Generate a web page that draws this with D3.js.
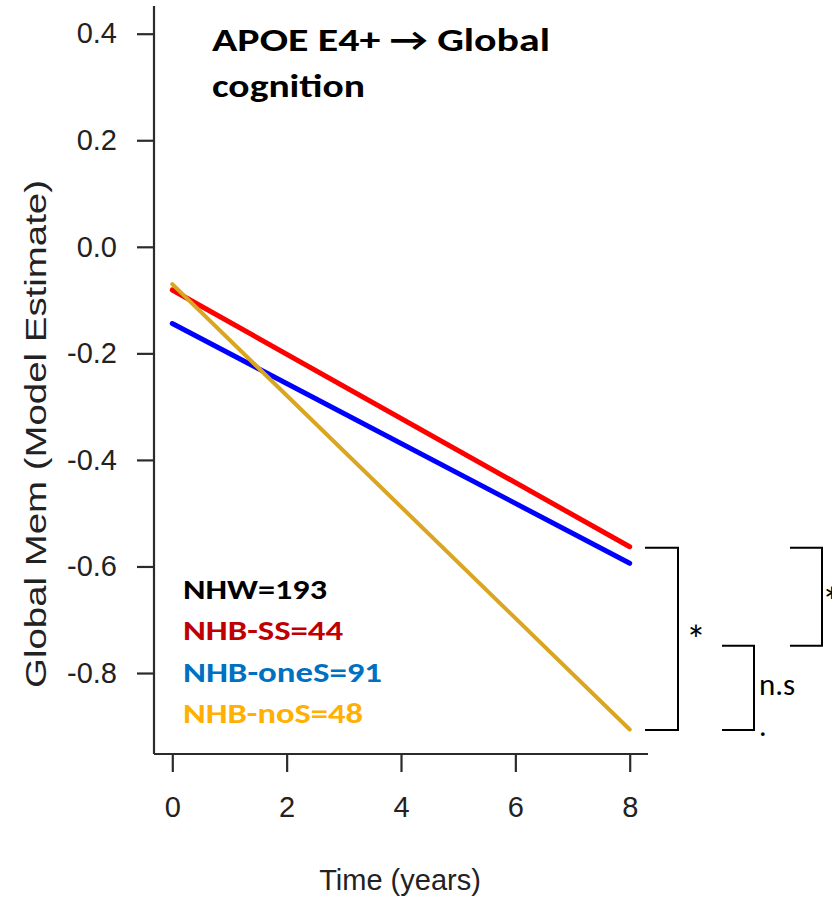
<!DOCTYPE html>
<html>
<head>
<meta charset="utf-8">
<script src="https://cdn.jsdelivr.net/npm/d3@7"></script>
<style>
  html, body { margin: 0; padding: 0; background: #fff; }
  svg { display: block; }
</style>
</head>
<body>
<svg id="chart" width="832" height="899"></svg>
<script>
// Model-estimated trajectories over time for each group
const groups = ["NHB-SS", "NHB-oneS", "NHB-noS"];
const years = [0, 8];
const nhbSS = [-0.081, -0.563];
const nhbOneS = [-0.144, -0.594];
const nhbNoS = [-0.070, -0.906];
const lineColors = ["#ff0000", "#0000ff", "#daa520"];
const lineWidths = [5, 5, 4];

// Legend entries (sample sizes)
const legendLabels = ["NHW=193", "NHB-SS=44", "NHB-oneS=91", "NHB-noS=48"];
const legendColors = ["#000000", "#c00000", "#0070c0", "#ffb000"];
const legendWidths = [144, 160, 199, 180];

// Axis ticks
const xTicks = [0, 2, 4, 6, 8];
const yTicks = [0.4, 0.2, 0.0, -0.2, -0.4, -0.6, -0.8];

// Significance brackets: [top value, bottom value, label]
const bracketTops = [-0.565, -0.749, -0.565];
const bracketBottoms = [-0.907, -0.907, -0.749];
const bracketLabels = ["*", "n.s", "*"];

const svg = d3.select("#chart");
const axisColor = "#2b2b2b";
const sansR = "Liberation Sans, Arial, Helvetica, sans-serif";
const sansC = "Carlito, Lato, 'Open Sans', sans-serif";

// Plot region (axis limits padded 4% like base R)
const x = d3.scaleLinear().domain([-0.32, 8.32]).range([154, 648]);
const y = d3.scaleLinear().domain([-0.952, 0.452]).range([754, 6]);

// Left axis
const yAxis = d3.axisLeft(y).tickValues(yTicks).tickSize(17).tickPadding(20)
  .tickFormat(d3.format(".1f"));
const gy = svg.append("g").attr("transform", `translate(${x.range()[0]},0)`).call(yAxis);
gy.select(".domain").remove();
gy.append("line").attr("x1", 0).attr("x2", 0)
  .attr("y1", y.range()[1]).attr("y2", y.range()[0]);
gy.selectAll("line").attr("stroke", axisColor).attr("stroke-width", 2.2);
gy.selectAll("text").attr("fill", "#222").style("font-family", sansR).style("font-size", "29px")
  .text(d => d3.format(".1f")(d).replace("−", "-"));

// Bottom axis
const xAxis = d3.axisBottom(x).tickValues(xTicks).tickSize(18).tickPadding(24)
  .tickFormat(d3.format("d"));
const gx = svg.append("g").attr("transform", `translate(0,${y.range()[0]})`).call(xAxis);
gx.select(".domain").remove();
gx.append("line").attr("y1", 0).attr("y2", 0)
  .attr("x1", x.range()[0]).attr("x2", x.range()[1]);
gx.selectAll("line").attr("stroke", axisColor).attr("stroke-width", 2.2);
gx.selectAll("text").attr("fill", "#222").style("font-family", sansR).style("font-size", "29px");

// Axis titles
svg.append("text")
  .attr("x", 400).attr("y", 890)
  .attr("text-anchor", "middle")
  .attr("fill", "#222")
  .style("font-family", sansR).style("font-size", "29px")
  .text("Time (years)");

svg.append("text")
  .attr("transform", "translate(46,434) rotate(-90)")
  .attr("text-anchor", "middle")
  .attr("fill", "#222")
  .attr("textLength", 508).attr("lengthAdjust", "spacingAndGlyphs")
  .style("font-family", sansR).style("font-size", "29px")
  .text("Global Mem (Model Estimate)");

// Trajectory lines
const series = [nhbSS, nhbOneS, nhbNoS];
const line = d3.line().x(d => x(d[0])).y(d => y(d[1]));
svg.append("g").selectAll("path")
  .data(series)
  .join("path")
  .attr("d", s => line(years.map((t, i) => [t, s[i]])))
  .attr("fill", "none")
  .attr("stroke", (s, i) => lineColors[i])
  .attr("stroke-width", (s, i) => lineWidths[i])
  .attr("stroke-linecap", "round");

// Title
const title = svg.append("text")
  .attr("fill", "#000")
  .style("font-family", sansC).style("font-weight", "bold").style("font-size", "33px");
title.append("tspan").attr("x", 212).attr("y", 51)
  .attr("textLength", 338).attr("lengthAdjust", "spacingAndGlyphs")
  .text("APOE E4+ \u2192 Global");
title.append("tspan").attr("x", 212).attr("y", 97)
  .attr("textLength", 153).attr("lengthAdjust", "spacingAndGlyphs")
  .text("cognition");

// Legend
svg.append("g").selectAll("text")
  .data(legendLabels)
  .join("text")
  .attr("x", 183)
  .attr("y", (d, i) => 599 + i * 41.4)
  .attr("fill", (d, i) => legendColors[i])
  .attr("textLength", (d, i) => legendWidths[i])
  .attr("lengthAdjust", "spacingAndGlyphs")
  .style("font-family", sansC).style("font-weight", "bold").style("font-size", "29px")
  .text(d => d);

// Significance brackets
const bracketX = [[645, 678], [722, 754], [790, 822]];
const gb = svg.append("g").attr("fill", "none").attr("stroke", "#000").attr("stroke-width", 2);
bracketTops.forEach((top, i) => {
  const [x0, x1] = bracketX[i];
  const y0 = y(top), y1 = y(bracketBottoms[i]);
  gb.append("path").attr("d", `M${x0},${y0}H${x1}V${y1}H${x0}`);
});
// [x, baseline, font size]
const labelPos = [[686, 654, 40], [759, 695, 31], [822, 616, 40]];
bracketLabels.forEach((lab, i) => {
  svg.append("text")
    .attr("x", labelPos[i][0]).attr("y", labelPos[i][1])
    .attr("fill", "#000")
    .style("font-family", sansC).style("font-size", labelPos[i][2] + "px")
    .text(lab);
});
svg.append("text").attr("x", 759).attr("y", 736).attr("fill", "#000")
  .style("font-family", sansC).style("font-size", "30px").text(".");
</script>
</body>
</html>
